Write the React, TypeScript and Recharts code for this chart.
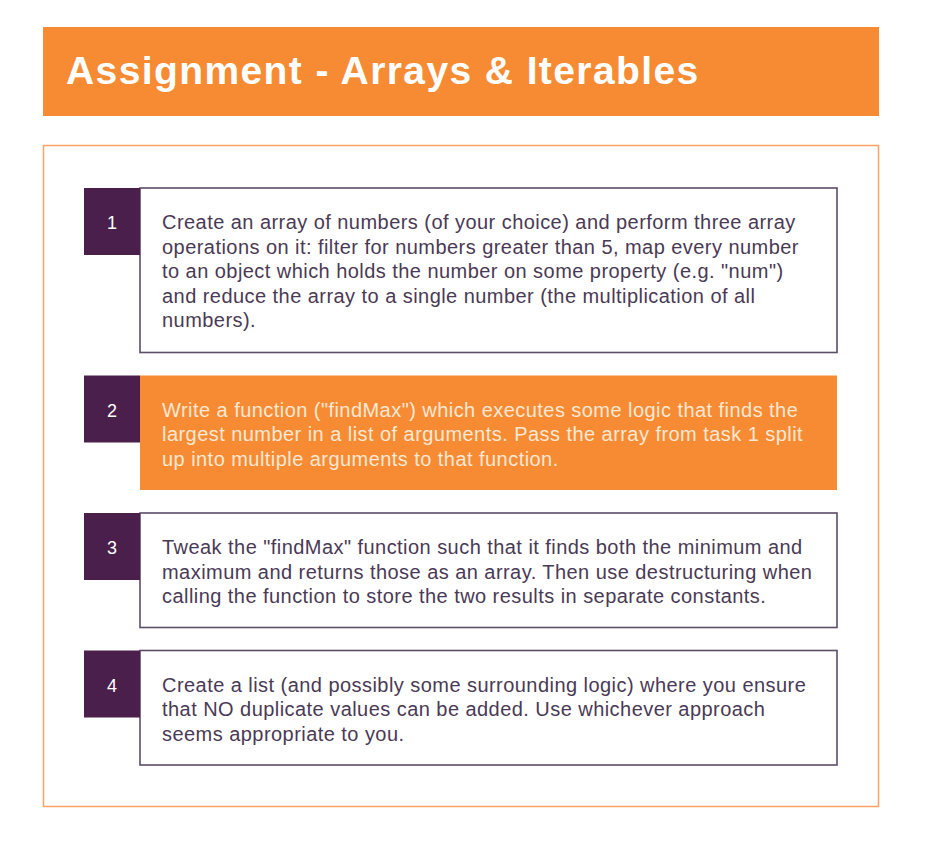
import { BarChart, Bar, XAxis, YAxis } from 'recharts';

// task numbers shown in the purple tabs
const taskIds = ['1', '2', '3', '4'];

// text of each task, one entry per line as laid out on the slide
const taskLines = [
  [
    'Create an array of numbers (of your choice) and perform three array',
    'operations on it: filter for numbers greater than 5, map every number',
    'to an object which holds the number on some property (e.g. "num")',
    'and reduce the array to a single number (the multiplication of all',
    'numbers).',
  ],
  [
    'Write a function ("findMax") which executes some logic that finds the',
    'largest number in a list of arguments. Pass the array from task 1 split',
    'up into multiple arguments to that function.',
  ],
  [
    'Tweak the "findMax" function such that it finds both the minimum and',
    'maximum and returns those as an array. Then use destructuring when',
    'calling the function to store the two results in separate constants.',
  ],
  [
    'Create a list (and possibly some surrounding logic) where you ensure',
    'that NO duplicate values can be added. Use whichever approach',
    'seems appropriate to you.',
  ],
];

// which task is highlighted on the slide
const highlighted = [false, true, false, false];

const ORANGE = '#f78b33';
const PURPLE = '#4b1f4b';
const INK = '#4a3a55';
const FONT = '"Liberation Sans", Arial, Helvetica, sans-serif';

// each task takes its line count (at least 3) plus padding rows
const slots = taskLines.map((lines) => Math.max(lines.length, 3) + 2.5);
const total = slots.reduce((a, b) => a + b, 0);

const row: Record<string, number | string> = { name: 'tasks' };
taskIds.forEach((id, i) => {
  row['task' + id] = slots[i];
});
const data = [row];

function TaskBox(props: any) {
  const { x, y, width, height, index } = props;
  const top = Math.min(y, y + height);
  const h = Math.abs(height) - 23;
  const tab = 56;
  const hi = highlighted[index];
  return (
    <g>
      <rect
        x={x + tab}
        y={top}
        width={width - tab}
        height={h}
        fill={hi ? ORANGE : '#ffffff'}
        stroke={hi ? 'none' : '#5d4d68'}
        strokeWidth={1.6}
      />
      <rect x={x} y={top} width={tab} height={67} fill={PURPLE} />
      <text
        x={x + tab / 2}
        y={top + 41}
        textAnchor="middle"
        fill="#ffffff"
        fontFamily={FONT}
        fontSize={18}
      >
        {taskIds[index]}
      </text>
      {taskLines[index].map((line, j) => (
        <text
          key={j}
          x={x + 78}
          y={top + 41 + j * 24.5}
          fill={hi ? '#fde8d4' : INK}
          fontFamily={FONT}
          fontSize={20}
          letterSpacing={0.45}
        >
          {line}
        </text>
      ))}
    </g>
  );
}

export default function App() {
  return (
    <div
      style={{
        position: 'absolute',
        left: 0,
        top: 0,
        width: 949,
        height: 846,
        background: '#ffffff',
      }}
    >
      <div
        style={{
          position: 'absolute',
          left: 43,
          top: 27,
          width: 836,
          height: 89,
          background: ORANGE,
        }}
      />
      <svg
        width={949}
        height={846}
        style={{ position: 'absolute', left: 0, top: 0 }}
      >
        <text
          x={66}
          y={83.5}
          fill="#ffffff"
          fontFamily={FONT}
          fontWeight="bold"
          fontSize={39}
          letterSpacing={1.4}
        >
          Assignment - Arrays &amp; Iterables
        </text>
        <rect
          x={43.5}
          y={145.5}
          width={835}
          height={661}
          fill="none"
          stroke="#f9a266"
          strokeWidth={1.5}
        />
      </svg>
      <div style={{ position: 'absolute', left: 0, top: 0 }}>
        <BarChart
          width={949}
          height={846}
          data={data}
          margin={{ top: 188, right: 112, bottom: 58, left: 84 }}
          barCategoryGap={0}
        >
          <XAxis dataKey="name" type="category" hide />
          <YAxis type="number" domain={[0, total]} reversed hide />
          {taskIds.map((id, i) => (
            <Bar
              key={id}
              dataKey={'task' + id}
              stackId="tasks"
              isAnimationActive={false}
              shape={(p: any) => <TaskBox {...p} index={i} />}
            />
          ))}
        </BarChart>
      </div>
    </div>
  );
}
